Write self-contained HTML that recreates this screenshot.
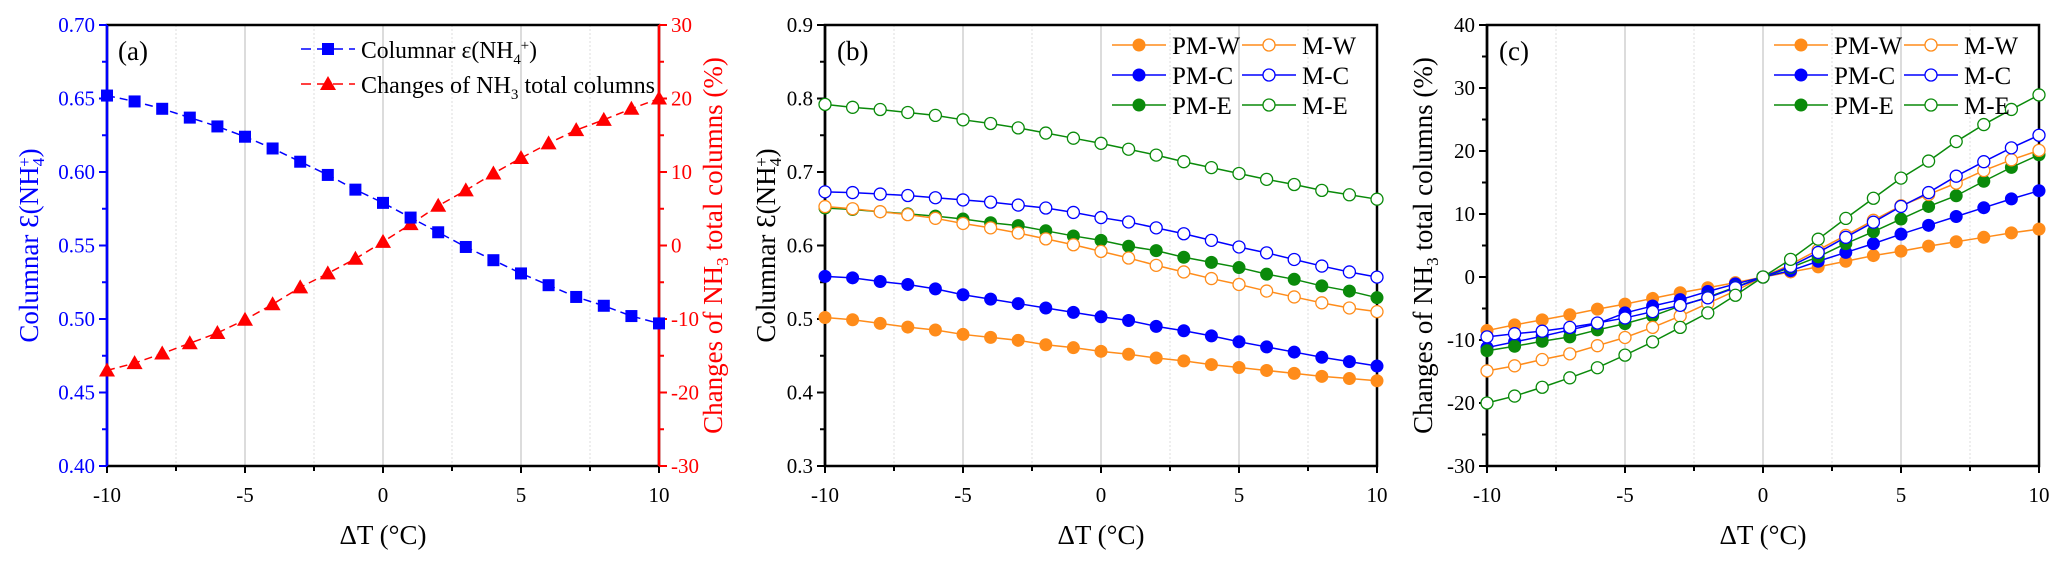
<!DOCTYPE html>
<html><head><meta charset="utf-8"><style>
html,body{margin:0;padding:0;background:#fff}
svg{display:block;font-family:"Liberation Serif",serif}
</style></head><body>
<svg id="fig" width="2067" height="567" viewBox="0 0 2067 567" xmlns="http://www.w3.org/2000/svg"></svg>
<script>
const xVals=[-10,-9,-8,-7,-6,-5,-4,-3,-2,-1,0,1,2,3,4,5,6,7,8,9,10];
const xTicks=[-10,-5,0,5,10];
// panel a
const aEps=[0.652,0.648,0.643,0.637,0.631,0.624,0.616,0.607,0.598,0.588,0.579,0.569,0.559,0.549,0.540,0.531,0.523,0.515,0.509,0.502,0.497];
const aChg=[-17,-16,-14.7,-13.3,-11.9,-10.1,-8,-5.7,-3.8,-1.8,0.5,2.9,5.4,7.5,9.8,11.9,13.9,15.7,17.1,18.6,20];
const aLeftTicks=[0.40,0.45,0.50,0.55,0.60,0.65,0.70];
const aRightTicks=[-30,-20,-10,0,10,20,30];
// panel b
const bPMW=[0.502,0.499,0.494,0.489,0.485,0.479,0.475,0.471,0.465,0.461,0.456,0.452,0.447,0.443,0.438,0.434,0.430,0.426,0.422,0.419,0.416];
const bPMC=[0.558,0.556,0.551,0.547,0.541,0.533,0.527,0.521,0.515,0.509,0.503,0.498,0.490,0.484,0.477,0.469,0.462,0.455,0.448,0.442,0.436];
const bPME=[0.651,0.649,0.646,0.643,0.640,0.636,0.631,0.627,0.620,0.613,0.607,0.599,0.593,0.584,0.577,0.570,0.561,0.554,0.545,0.538,0.529];
const bMW=[0.653,0.650,0.646,0.642,0.637,0.630,0.624,0.617,0.609,0.601,0.592,0.583,0.573,0.564,0.555,0.547,0.538,0.530,0.522,0.515,0.510];
const bMC=[0.673,0.672,0.670,0.668,0.665,0.662,0.659,0.655,0.651,0.645,0.638,0.632,0.624,0.616,0.607,0.598,0.590,0.581,0.572,0.564,0.557];
const bME=[0.792,0.788,0.785,0.781,0.777,0.771,0.766,0.760,0.753,0.746,0.739,0.731,0.723,0.714,0.706,0.698,0.690,0.683,0.675,0.669,0.663];
const bTicks=[0.3,0.4,0.5,0.6,0.7,0.8,0.9];
// panel c
const cPMW=[-8.5,-7.6,-6.8,-6.0,-5.1,-4.3,-3.4,-2.5,-1.7,-0.9,0,0.8,1.6,2.5,3.4,4.1,4.9,5.6,6.3,7.0,7.6];
const cPMC=[-11.2,-10.3,-9.4,-8.4,-7.4,-5.7,-4.6,-3.6,-2.3,-1.1,0,1.0,2.5,3.9,5.3,6.8,8.2,9.6,11.0,12.4,13.7];
const cPME=[-11.7,-11.0,-10.2,-9.5,-8.4,-7.4,-6.2,-4.6,-3.2,-1.6,0,1.5,3.2,5.3,7.2,9.2,11.2,12.9,15.2,17.4,19.4];
const cMW=[-14.9,-14.1,-13.1,-12.2,-10.9,-9.6,-8.0,-6.2,-4.2,-2.2,0,2.0,4.3,6.6,9.0,11.3,13.1,14.9,16.9,18.6,20.1];
const cMC=[-9.5,-9.0,-8.6,-8.0,-7.3,-6.5,-5.5,-4.5,-3.3,-1.7,0,1.7,3.9,6.3,8.7,11.2,13.4,16.0,18.3,20.5,22.5];
const cME=[-20,-18.9,-17.5,-16.0,-14.4,-12.4,-10.3,-8.0,-5.7,-2.9,0,2.8,6.0,9.3,12.5,15.7,18.4,21.5,24.2,26.6,28.9];
const cTicks=[-30,-20,-10,0,10,20,30,40];

const OR='#ff8c1a',BL='#0000ff',GR='#0a8a0a';
const NS='http://www.w3.org/2000/svg';
const svg=document.getElementById('fig');
function mk(tag,attrs,parent,text){const e=document.createElementNS(NS,tag);for(const k in attrs)e.setAttribute(k,attrs[k]);if(text!==undefined)e.textContent=text;(parent||svg).appendChild(e);return e;}
const TOP=25,BOT=466;
const MID=(TOP+BOT)/2;
function lin(d0,d1,r0,r1){return v=>r0+(v-d0)/(d1-d0)*(r1-r0);}

function frame(x0,x1,sx,g){
  for(let v=-10;v<=10;v+=2.5){
    const x=sx(v);
    const major=Number.isInteger(v/5);
    if(v===-10||v===10)continue;
    mk('line',{x1:x,x2:x,y1:TOP,y2:BOT,stroke:major?'#b8b8b8':'#dcdcdc','stroke-width':1,'stroke-dasharray':major?'':'2,2'},g);
  }
  mk('rect',{x:x0,y:TOP,width:x1-x0,height:BOT-TOP,fill:'none',stroke:'#000','stroke-width':2.5},g);
  for(let v=-10;v<=10;v+=2.5){
    const x=sx(v);const major=Number.isInteger(v/5);
    mk('line',{x1:x,x2:x,y1:BOT,y2:BOT+(major?7:5),stroke:'#000','stroke-width':2},g);
  }
  xTicks.forEach(v=>{const t=mk('text',{x:sx(v),y:502,'text-anchor':'middle','font-size':21},g,String(v));
    
    });
  const xt=mk('text',{x:(x0+x1)/2,y:544,'text-anchor':'middle','font-size':27},g,'ΔT (°C)');
  
  
}
function yAxis(x,ticks,sy,color,side,g,fmt){
  const dir=side==='left'?-1:1;
  mk('line',{x1:x,x2:x,y1:TOP,y2:BOT,stroke:color,'stroke-width':2.5},g);
  for(let i=0;i<ticks.length;i++){
    const y=sy(ticks[i]);
    mk('line',{x1:x,x2:x+dir*8,y1:y,y2:y,stroke:color,'stroke-width':2},g);
    if(i<ticks.length-1){const ym=sy((ticks[i]+ticks[i+1])/2);mk('line',{x1:x,x2:x+dir*5,y1:ym,y2:ym,stroke:color,'stroke-width':2},g);}
    const t=mk('text',{x:x+dir*12,y:y+7,'text-anchor':side==='left'?'end':'start','font-size':21,fill:color},g,fmt(ticks[i]));
    
    
  }
}
function marker(type,x,y,color,g){
  if(type==='sq')return mk('rect',{x:x-6,y:y-6,width:12,height:12,fill:color},g);
  if(type==='tri')return mk('polygon',{points:`${x},${y-8} ${x-8},${y+6} ${x+8},${y+6}`,fill:color},g);
  if(type==='fill')return mk('circle',{cx:x,cy:y,r:6,fill:color,stroke:color,'stroke-width':1},g);
  return mk('circle',{cx:x,cy:y,r:6,fill:'#fff',stroke:color,'stroke-width':1.3},g);
}
function series(vals,sx,sy,color,type,dash,name,g){
  const sg=mk('g',{},g);
  
  
  const pts=vals.map((v,i)=>sx(xVals[i])+','+sy(v)).join(' ');
  mk('polyline',{points:pts,fill:'none',stroke:color,'stroke-width':1.5,'stroke-dasharray':dash||''},sg);
  vals.forEach((v,i)=>marker(type,sx(xVals[i]),sy(v),color,sg));
}
function legendEntry(x,y,color,type,g,dash){
  const lg=mk('g',{},g);
  
  
  mk('line',{x1:x,x2:x+54,y1:y,y2:y,stroke:color,'stroke-width':1.5,'stroke-dasharray':dash||''},lg);
  marker(type,x+27,y,color,lg);
  return lg;
}
function ytitle(x,cy,color,g,parts){
  const t=mk('text',{transform:`translate(${x},${cy}) rotate(-90)`,'text-anchor':'middle','font-size':27,fill:color},g);
  parts.forEach(p=>{mk('tspan',p.a||{},t,p.t);});
  
  
  return t;
}

// ---------- Panel a
(function(){
  const g=mk('g',{});
  const x0=107,x1=659;const sx=lin(-10,10,x0,x1);
  const sl=lin(0.40,0.70,BOT,TOP), sr=lin(-30,30,BOT,TOP);
  frame(x0,x1,sx,g);
  yAxis(x0,aLeftTicks,sl,BL,'left',g,v=>v.toFixed(2));
  yAxis(x1,aRightTicks,sr,'#ff0000','right',g,v=>String(v));
  series(aChg,sx,sr,'#ff0000','tri','8,5','series-nh3-change',g);
  series(aEps,sx,sl,BL,'sq','8,5','series-columnar-eps',g);
  const lab=mk('text',{x:118,y:60,'font-size':27},g,'(a)');
  legendEntry(301,49,BL,'sq',g,'10,6');
  const t1=mk('text',{x:361,y:58,'font-size':24,'textLength':176,'lengthAdjust':'spacingAndGlyphs'},g);
  t1.innerHTML='Columnar ε(NH<tspan font-size="15" dy="6">4</tspan><tspan font-size="15" dy="-14">+</tspan><tspan dy="8">)</tspan>';
  
  
  legendEntry(301,84,'#ff0000','tri',g,'10,6');
  const t2=mk('text',{x:361,y:93,'font-size':24,'textLength':294,'lengthAdjust':'spacingAndGlyphs'},g);
  t2.innerHTML='Changes of  NH<tspan font-size="15" dy="6">3</tspan><tspan dy="-6"> total columns</tspan>';
  
  
  ytitle(38,MID,BL,g,[{t:'Columnar Ɛ(NH'},{t:'4',a:{'font-size':17,dy:6}},{t:'+',a:{'font-size':17,dy:-14,dx:-9}},{t:')',a:{dy:8}}]);
  ytitle(722,MID,'#ff0000',g,[{t:'Changes of  NH'},{t:'3',a:{'font-size':17,dy:6}},{t:' total columns (%)',a:{dy:-6}}]);
})();

function multiPanel(name,label,x0,sets,ticks,fmt,titleParts,titleX){
  const g=mk('g',{});
  const x1=x0+552;const sx=lin(-10,10,x0,x1);
  const sy=lin(ticks[0],ticks[ticks.length-1],BOT,TOP);
  frame(x0,x1,sx,g);
  yAxis(x0,ticks,sy,'#000','left',g,fmt);
  sets.forEach(s=>series(s.v,sx,sy,s.c,s.t,'',s.n,g));
  const lab=mk('text',{x:x0+12,y:60,'font-size':27},g,label);
  const lx=[x1-265,x1-135];const ly=[45,75,105];
  const order=[[0,3],[1,4],[2,5]];
  order.forEach((row,r)=>row.forEach((si,c)=>{
    const s=sets[si];legendEntry(lx[c],ly[r],s.c,s.t,g);
    const t=mk('text',{x:lx[c]+60,y:ly[r]+9,'font-size':25},g,s.l);
    
    
  }));
  ytitle(titleX,MID,'#000',g,titleParts);
}
multiPanel('panel-b','(b)',825,[
  {v:bPMW,c:OR,t:'fill',l:'PM-W',n:'series-pm-w'},
  {v:bPMC,c:BL,t:'fill',l:'PM-C',n:'series-pm-c'},
  {v:bPME,c:GR,t:'fill',l:'PM-E',n:'series-pm-e'},
  {v:bMW,c:OR,t:'open',l:'M-W',n:'series-m-w'},
  {v:bMC,c:BL,t:'open',l:'M-C',n:'series-m-c'},
  {v:bME,c:GR,t:'open',l:'M-E',n:'series-m-e'}],bTicks,v=>v.toFixed(1),
  [{t:'Columnar Ɛ(NH'},{t:'4',a:{'font-size':17,dy:6}},{t:'+',a:{'font-size':17,dy:-14,dx:-9}},{t:')',a:{dy:8}}],775);
multiPanel('panel-c','(c)',1487,[
  {v:cPMW,c:OR,t:'fill',l:'PM-W',n:'series-pm-w'},
  {v:cPMC,c:BL,t:'fill',l:'PM-C',n:'series-pm-c'},
  {v:cPME,c:GR,t:'fill',l:'PM-E',n:'series-pm-e'},
  {v:cMW,c:OR,t:'open',l:'M-W',n:'series-m-w'},
  {v:cMC,c:BL,t:'open',l:'M-C',n:'series-m-c'},
  {v:cME,c:GR,t:'open',l:'M-E',n:'series-m-e'}],cTicks,v=>String(v),
  [{t:'Changes of  NH'},{t:'3',a:{'font-size':17,dy:6}},{t:' total columns (%)',a:{dy:-6}}],1432);
</script>
</body></html>
